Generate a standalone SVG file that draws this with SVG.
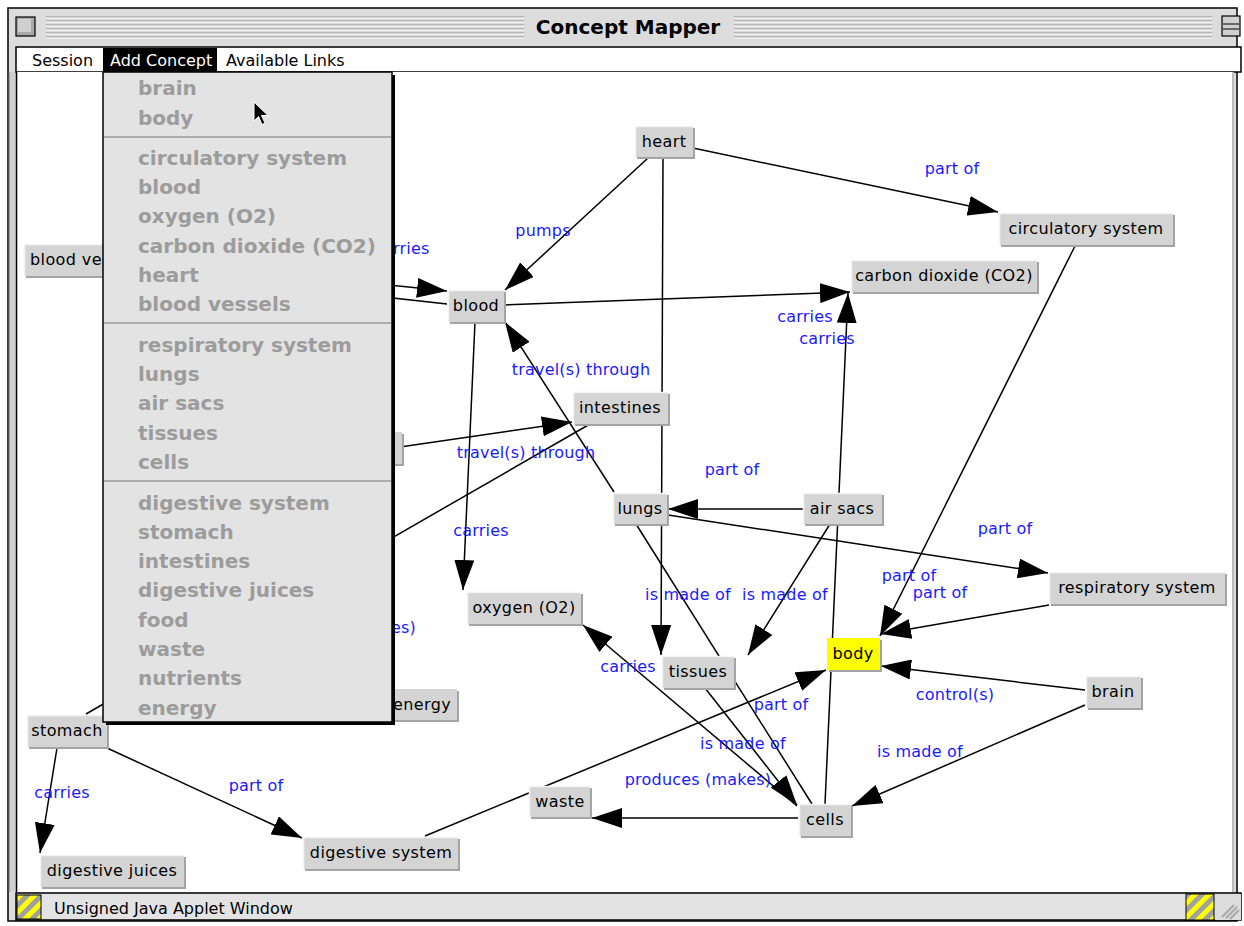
<svg xmlns="http://www.w3.org/2000/svg" width="1244" height="926" viewBox="0 0 1244 926">
  <defs>
    <style>
      .edge { stroke: #000; stroke-width: 1.5; fill: none; }
      .arr { marker-end: url(#head); }
      .lb { font-family: "DejaVu Sans", Verdana, sans-serif; font-size: 16px; fill: #1a1aff; letter-spacing: 0.2px; }
      .mid { text-anchor: middle; }
      .nbg { fill: #d4d4d4; }
      .nsh { fill: #a4a4a4; }
      .nhl { stroke: #f4f4f4; stroke-width: 1.5; fill: none; }
      .nt { font-family: "DejaVu Sans", Verdana, sans-serif; font-size: 16px; fill: #000; letter-spacing: 0.4px; }
      .mi { font-family: "DejaVu Sans", Verdana, sans-serif; font-size: 20px; font-weight: bold; fill: #9c9c9c; }
      .ui { font-family: "DejaVu Sans", Verdana, sans-serif; font-size: 16px; fill: #000; }
      .stripe { stroke: #8c8c8c; stroke-width: 1; }
      .stripe2 { stroke: #ffffff; stroke-width: 1; }
    </style>
    <marker id="head" markerUnits="userSpaceOnUse" markerWidth="30" markerHeight="20" viewBox="0 0 30 20" refX="30" refY="10" orient="auto">
      <path d="M0,0 L30,10 L0,20 Z" fill="#000"/>
    </marker>
    <pattern id="warn" patternUnits="userSpaceOnUse" width="10" height="10" patternTransform="rotate(45)">
      <rect width="10" height="10" fill="#ffff00"/>
      <rect width="5" height="10" fill="#a0a0a0"/>
    </pattern>
  </defs>

  <!-- window frame -->
  <rect x="0" y="0" width="1244" height="926" fill="#ffffff"/>
  <rect x="8" y="8" width="1229" height="913" fill="#dcdcdc" stroke="#000" stroke-width="1.5"/>

  <!-- title bar -->
  <g id="titlebar">
    <g>
      <line class="stripe" x1="46" y1="17" x2="1212" y2="17"/>
      <line class="stripe2" x1="46" y1="18" x2="1212" y2="18"/>
      <line class="stripe" x1="46" y1="21" x2="1212" y2="21"/>
      <line class="stripe2" x1="46" y1="22" x2="1212" y2="22"/>
      <line class="stripe" x1="46" y1="25" x2="1212" y2="25"/>
      <line class="stripe2" x1="46" y1="26" x2="1212" y2="26"/>
      <line class="stripe" x1="46" y1="29" x2="1212" y2="29"/>
      <line class="stripe2" x1="46" y1="30" x2="1212" y2="30"/>
      <line class="stripe" x1="46" y1="33" x2="1212" y2="33"/>
      <line class="stripe2" x1="46" y1="34" x2="1212" y2="34"/>
      <line class="stripe" x1="46" y1="37" x2="1212" y2="37"/>
      <line class="stripe2" x1="46" y1="38" x2="1212" y2="38"/>
    </g>
    <rect x="524" y="13" width="210" height="28" fill="#dcdcdc"/>
    <text x="628" y="34" text-anchor="middle" font-family="DejaVu Sans, Verdana, sans-serif" font-size="20" font-weight="bold" fill="#000">Concept Mapper</text>
    <!-- close box -->
    <rect x="16" y="17" width="19" height="19" fill="#a8a8a8" stroke="#000" stroke-width="1.2"/>
    <rect x="18" y="19" width="13" height="13" fill="#cfcfcf"/>
    <!-- zoom box -->
    <rect x="1222" y="16" width="18" height="20" fill="#cfcfcf" stroke="#000" stroke-width="1.2"/>
    <line x1="1223" y1="24" x2="1239" y2="24" stroke="#000" stroke-width="1"/>
    <line x1="1223" y1="29" x2="1239" y2="29" stroke="#000" stroke-width="1"/>
  </g>

  <!-- menu bar -->
  <g id="menubar">
    <rect x="16" y="47" width="1225" height="25" fill="#ffffff" stroke="#000" stroke-width="1.5"/>
    <text class="ui" x="32" y="66">Session</text>
    <rect x="103" y="48" width="114" height="24" fill="#000"/>
    <text class="ui" x="110" y="66" style="fill:#fff">Add Concept</text>
    <text class="ui" x="226" y="66">Available Links</text>
  </g>

  <!-- canvas with its left double border -->
  <rect x="17" y="72" width="1216" height="820" fill="#ffffff"/>
  <rect x="9" y="72" width="6" height="820" fill="#d0d0d0"/>
  <line x1="9" y1="72" x2="9" y2="892" stroke="#6a6a6a" stroke-width="1"/>
  <line x1="16.5" y1="72" x2="16.5" y2="892" stroke="#000" stroke-width="1.5"/>
  <line x1="1233" y1="72" x2="1233" y2="892" stroke="#bdbdbd" stroke-width="2"/>

  <!-- connectors -->
  <g id="connectors">
    <line class="edge arr" x1="648" y1="158" x2="505" y2="290"/>
    <line class="edge arr" x1="693" y1="148" x2="998" y2="212"/>
    <line class="edge arr" x1="663" y1="158" x2="661" y2="655"/>
    <line class="edge arr" x1="504" y1="305" x2="850" y2="292"/>
    <line class="edge arr" x1="825" y1="804" x2="848" y2="293"/>
    <line class="edge arr" x1="130" y1="258" x2="447" y2="291"/>
    <line class="edge" x1="447" y1="304" x2="140" y2="270"/>
    <line class="edge arr" x1="475" y1="322" x2="463" y2="590"/>
    <line class="edge arr" x1="614" y1="492" x2="505" y2="322"/>
    <line class="edge arr" x1="400" y1="447" x2="572" y2="422"/>
    <line class="edge" x1="590" y1="424" x2="86" y2="714"/>
    <line class="edge arr" x1="803" y1="509" x2="668" y2="509"/>
    <line class="edge arr" x1="668" y1="515" x2="1048" y2="573"/>
    <line class="edge" x1="636" y1="524" x2="812" y2="804"/>
    <line class="edge arr" x1="830" y1="524" x2="748" y2="655"/>
    <line class="edge arr" x1="797" y1="806" x2="583" y2="625"/>
    <line class="edge arr" x1="705" y1="688" x2="797" y2="805"/>
    <line class="edge arr" x1="798" y1="818" x2="592" y2="818"/>
    <line class="edge arr" x1="425" y1="836" x2="826" y2="670"/>
    <line class="edge arr" x1="1085" y1="690" x2="881" y2="666"/>
    <line class="edge arr" x1="1085" y1="705" x2="852" y2="806"/>
    <line class="edge arr" x1="1049" y1="605" x2="881" y2="634"/>
    <line class="edge arr" x1="1075" y1="246" x2="880" y2="636"/>
    <line class="edge arr" x1="57" y1="748" x2="40" y2="853"/>
    <line class="edge arr" x1="107" y1="748" x2="302" y2="838"/>

    <text class="lb mid" x="543" y="236">pumps</text>
    <text class="lb mid" x="952" y="174">part of</text>
    <text class="lb" x="393" y="254">rries</text>
    <text class="lb mid" x="805" y="322">carries</text>
    <text class="lb mid" x="827" y="344">carries</text>
    <text class="lb mid" x="581" y="375">travel(s) through</text>
    <text class="lb mid" x="526" y="458">travel(s) through</text>
    <text class="lb mid" x="732" y="475">part of</text>
    <text class="lb mid" x="481" y="536">carries</text>
    <text class="lb mid" x="1005" y="534">part of</text>
    <text class="lb mid" x="909" y="581">part of</text>
    <text class="lb mid" x="940" y="598">part of</text>
    <text class="lb mid" x="688" y="600">is made of</text>
    <text class="lb mid" x="785" y="600">is made of</text>
    <text class="lb" x="391" y="633">es)</text>
    <text class="lb mid" x="628" y="672">carries</text>
    <text class="lb mid" x="955" y="700">control(s)</text>
    <text class="lb mid" x="781" y="710">part of</text>
    <text class="lb mid" x="743" y="749">is made of</text>
    <text class="lb mid" x="920" y="757">is made of</text>
    <text class="lb mid" x="698" y="785">produces (makes)</text>
    <text class="lb mid" x="256" y="791">part of</text>
    <text class="lb mid" x="62" y="798">carries</text>
  </g>

  <!-- concept nodes -->
  <g id="node-heart">
    <rect class="nsh" x="637" y="128" width="58" height="31"/>
    <rect class="nbg" x="635" y="126" width="58" height="31"/>
    <polyline class="nhl" points="635.5,157 635.5,126.5 693,126.5"/>
    <text class="nt mid" x="664" y="147">heart</text>
  </g>
  <g id="node-circulatory-system">
    <rect class="nsh" x="1001" y="215" width="174" height="32"/>
    <rect class="nbg" x="999" y="213" width="174" height="32"/>
    <polyline class="nhl" points="999.5,245 999.5,213.5 1173,213.5"/>
    <text class="nt mid" x="1086" y="234">circulatory system</text>
  </g>
  <g id="node-carbon-dioxide">
    <rect class="nsh" x="853" y="262" width="186" height="32"/>
    <rect class="nbg" x="851" y="260" width="186" height="32"/>
    <polyline class="nhl" points="851.5,292 851.5,260.5 1037,260.5"/>
    <text class="nt mid" x="944" y="281">carbon dioxide (CO2)</text>
  </g>
  <g id="node-blood-vessels">
    <rect class="nsh" x="26" y="246" width="130" height="32"/>
    <rect class="nbg" x="24" y="244" width="130" height="32"/>
    <polyline class="nhl" points="24.5,276 24.5,244.5 154,244.5"/>
    <text class="nt" x="30" y="265">blood ves</text>
  </g>
  <g id="node-blood">
    <rect class="nsh" x="450" y="292" width="56" height="32"/>
    <rect class="nbg" x="448" y="290" width="56" height="32"/>
    <polyline class="nhl" points="448.5,322 448.5,290.5 504,290.5"/>
    <text class="nt mid" x="476" y="311">blood</text>
  </g>
  <g id="node-intestines">
    <rect class="nsh" x="575" y="394" width="95" height="32"/>
    <rect class="nbg" x="573" y="392" width="95" height="32"/>
    <polyline class="nhl" points="573.5,424 573.5,392.5 668,392.5"/>
    <text class="nt mid" x="620" y="413">intestines</text>
  </g>
  <g id="node-covered">
    <rect class="nsh" x="332" y="434" width="72" height="32"/>
    <rect class="nbg" x="330" y="432" width="72" height="32"/>
  </g>
  <g id="node-lungs">
    <rect class="nsh" x="615" y="495" width="54" height="31"/>
    <rect class="nbg" x="613" y="493" width="54" height="31"/>
    <polyline class="nhl" points="613.5,524 613.5,493.5 667,493.5"/>
    <text class="nt mid" x="640" y="514">lungs</text>
  </g>
  <g id="node-air-sacs">
    <rect class="nsh" x="805" y="495" width="79" height="31"/>
    <rect class="nbg" x="803" y="493" width="79" height="31"/>
    <polyline class="nhl" points="803.5,524 803.5,493.5 882,493.5"/>
    <text class="nt mid" x="842" y="514">air sacs</text>
  </g>
  <g id="node-respiratory-system">
    <rect class="nsh" x="1051" y="574" width="176" height="32"/>
    <rect class="nbg" x="1049" y="572" width="176" height="32"/>
    <polyline class="nhl" points="1049.5,604 1049.5,572.5 1225,572.5"/>
    <text class="nt mid" x="1137" y="593">respiratory system</text>
  </g>
  <g id="node-oxygen">
    <rect class="nsh" x="469" y="594" width="114" height="32"/>
    <rect class="nbg" x="467" y="592" width="114" height="32"/>
    <polyline class="nhl" points="467.5,624 467.5,592.5 581,592.5"/>
    <text class="nt mid" x="524" y="613">oxygen (O2)</text>
  </g>
  <g id="node-body">
    <rect class="nsh" x="829" y="640" width="53" height="32"/>
    <rect x="827" y="638" width="53" height="32" fill="#ffff00"/>
    <text class="nt mid" x="853" y="659">body</text>
  </g>
  <g id="node-tissues">
    <rect class="nsh" x="664" y="658" width="72" height="32"/>
    <rect class="nbg" x="662" y="656" width="72" height="32"/>
    <polyline class="nhl" points="662.5,688 662.5,656.5 734,656.5"/>
    <text class="nt mid" x="698" y="677">tissues</text>
  </g>
  <g id="node-brain">
    <rect class="nsh" x="1088" y="678" width="55" height="32"/>
    <rect class="nbg" x="1086" y="676" width="55" height="32"/>
    <polyline class="nhl" points="1086.5,708 1086.5,676.5 1141,676.5"/>
    <text class="nt mid" x="1113" y="697">brain</text>
  </g>
  <g id="node-energy">
    <rect class="nsh" x="332" y="691" width="127" height="31"/>
    <rect class="nbg" x="330" y="689" width="127" height="31"/>
    <text class="nt" x="393" y="710">energy</text>
  </g>
  <g id="node-stomach">
    <rect class="nsh" x="29" y="717" width="80" height="32"/>
    <rect class="nbg" x="27" y="715" width="80" height="32"/>
    <polyline class="nhl" points="27.5,747 27.5,715.5 107,715.5"/>
    <text class="nt mid" x="67" y="736">stomach</text>
  </g>
  <g id="node-waste">
    <rect class="nsh" x="531" y="788" width="61" height="31"/>
    <rect class="nbg" x="529" y="786" width="61" height="31"/>
    <polyline class="nhl" points="529.5,817 529.5,786.5 590,786.5"/>
    <text class="nt mid" x="560" y="807">waste</text>
  </g>
  <g id="node-cells">
    <rect class="nsh" x="801" y="806" width="52" height="32"/>
    <rect class="nbg" x="799" y="804" width="52" height="32"/>
    <polyline class="nhl" points="799.5,836 799.5,804.5 851,804.5"/>
    <text class="nt mid" x="825" y="825">cells</text>
  </g>
  <g id="node-digestive-juices">
    <rect class="nsh" x="42" y="857" width="144" height="32"/>
    <rect class="nbg" x="40" y="855" width="144" height="32"/>
    <polyline class="nhl" points="40.5,887 40.5,855.5 184,855.5"/>
    <text class="nt mid" x="112" y="876">digestive juices</text>
  </g>
  <g id="node-digestive-system">
    <rect class="nsh" x="305" y="839" width="155" height="32"/>
    <rect class="nbg" x="303" y="837" width="155" height="32"/>
    <polyline class="nhl" points="303.5,869 303.5,837.5 458,837.5"/>
    <text class="nt mid" x="381" y="858">digestive system</text>
  </g>

  <!-- Add Concept pull-down menu -->
  <g id="menu-add-concept">
    <rect x="106" y="75" width="289" height="650" fill="#000"/>
    <rect x="103" y="72" width="289" height="650" fill="#e3e3e3" stroke="#000" stroke-width="1.5"/>
    <line x1="104" y1="137" x2="391" y2="137" stroke="#9a9a9a" stroke-width="1.5"/>
    <line x1="104" y1="323" x2="391" y2="323" stroke="#9a9a9a" stroke-width="1.5"/>
    <line x1="104" y1="481" x2="391" y2="481" stroke="#9a9a9a" stroke-width="1.5"/>
    <text class="mi" x="138" y="95">brain</text>
    <text class="mi" x="138" y="125">body</text>
    <text class="mi" x="138" y="165">circulatory system</text>
    <text class="mi" x="138" y="194">blood</text>
    <text class="mi" x="138" y="223">oxygen (O2)</text>
    <text class="mi" x="138" y="253">carbon dioxide (CO2)</text>
    <text class="mi" x="138" y="282">heart</text>
    <text class="mi" x="138" y="311">blood vessels</text>
    <text class="mi" x="138" y="352">respiratory system</text>
    <text class="mi" x="138" y="381">lungs</text>
    <text class="mi" x="138" y="410">air sacs</text>
    <text class="mi" x="138" y="440">tissues</text>
    <text class="mi" x="138" y="469">cells</text>
    <text class="mi" x="138" y="510">digestive system</text>
    <text class="mi" x="138" y="539">stomach</text>
    <text class="mi" x="138" y="568">intestines</text>
    <text class="mi" x="138" y="597">digestive juices</text>
    <text class="mi" x="138" y="627">food</text>
    <text class="mi" x="138" y="656">waste</text>
    <text class="mi" x="138" y="685">nutrients</text>
    <text class="mi" x="138" y="715">energy</text>
  </g>

  <!-- mouse pointer -->
  <path d="M254,102 L254,121 L258.5,116.5 L262,124.5 L265,123 L261.5,115.5 L268,115.5 Z" fill="#000" stroke="#fff" stroke-width="1"/>

  <!-- status bar -->
  <g id="statusbar">
    <rect x="16" y="893" width="1225" height="27" fill="#e3e3e3" stroke="#000" stroke-width="1.5"/>
    <rect x="17" y="895" width="24" height="24" fill="url(#warn)" stroke="#000" stroke-width="1"/>
    <text class="ui" x="54" y="914">Unsigned Java Applet Window</text>
    <rect x="1186" y="894" width="28" height="26" fill="url(#warn)" stroke="#000" stroke-width="1"/>
    <rect x="1215" y="894" width="26" height="26" fill="#dcdcdc"/>
    <g stroke="#a8a8a8" stroke-width="2">
      <line x1="1222" y1="917" x2="1234" y2="905"/>
      <line x1="1226" y1="918" x2="1237" y2="907"/>
      <line x1="1230" y1="919" x2="1239" y2="910"/>
    </g>
  </g>
</svg>
